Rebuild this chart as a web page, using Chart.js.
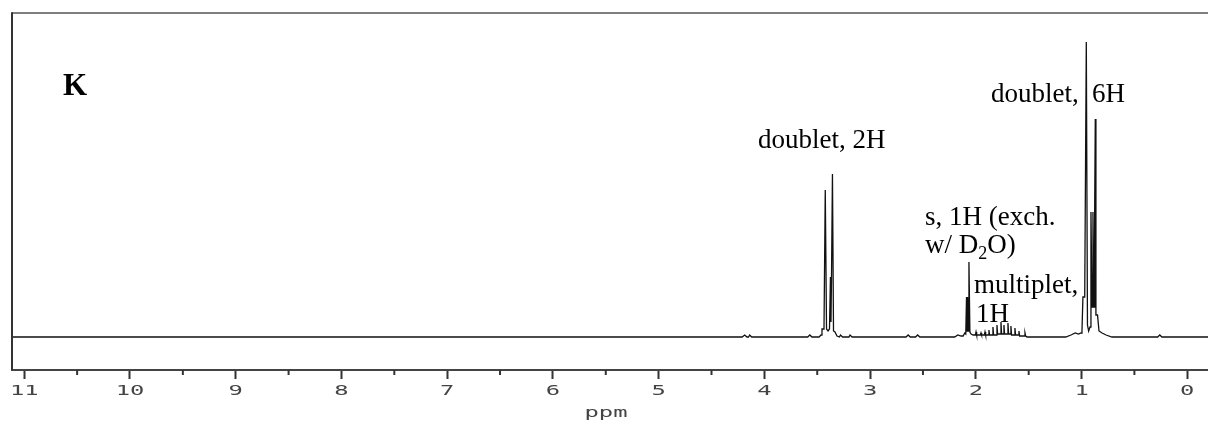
<!DOCTYPE html>
<html>
<head>
<meta charset="utf-8">
<script src="https://cdn.jsdelivr.net/npm/chart.js@4.4.0/dist/chart.umd.min.js"></script>
<style>
  html, body { margin: 0; padding: 0; background: #fff; }
</style>
</head>
<body>
<canvas id="nmrChart" width="1208" height="426"></canvas>
<script>
// 1H NMR spectrum of compound K
// chemical shift (ppm) and height above baseline (arbitrary units)
var ppm = [
  11.116, 4.21, 4.186, 4.165, 4.15, 4.139, 4.12, 3.59, 3.57, 3.55,
  3.483, 3.464, 3.455, 3.436, 3.424, 3.412, 3.398, 3.384, 3.375, 3.370,
  3.365, 3.356, 3.346, 3.332, 3.313, 3.29, 3.28, 3.26, 3.20, 3.19,
  3.17, 2.66, 2.64, 2.62, 2.57, 2.55, 2.53, 2.20, 2.17, 2.14,
  2.12, 2.105, 2.095, 2.088, 2.083, 2.078, 2.072, 2.065, 2.056, 2.045,
  2.025, 2.004, 1.998, 1.992, 1.957, 1.951, 1.945, 1.919, 1.913, 1.907,
  1.882, 1.876, 1.870, 1.844, 1.838, 1.832, 1.806, 1.800, 1.794, 1.768,
  1.762, 1.756, 1.740, 1.734, 1.728, 1.702, 1.696, 1.690, 1.674, 1.668,
  1.662, 1.636, 1.630, 1.624, 1.598, 1.592, 1.586, 1.541, 1.535, 1.529,
  1.516, 1.15, 1.10, 1.06,
  1.03, 1.005, 0.996, 0.987, 0.970, 0.955, 0.944, 0.933, 0.920, 0.911,
  0.901, 0.892, 0.882, 0.876, 0.870, 0.864, 0.849, 0.835, 0.806, 0.768,
  0.712, 0.28, 0.26, 0.24, -0.196
];
var intensity = [
  0, 0, 2, 0, 0, 2, 0, 0, 2, 0,
  0, 2, 8, 8, 147, 8, 6, 8, 60, 15,
  60, 163, 6, 5, 1, 0, 2, 0, 0, 2,
  0, 0, 2, 0, 0, 2, 0, 0, 2, 1,
  1, 4, 3, 40, 6, 40, 6, 75, 5, 3,
  2, 2, 5, 2, 2, 4, 2, 2, 5, 2,
  2, 7, 2, 2, 10, 2, 2, 12, 3, 3,
  15, 3, 3, 12, 3, 3, 14, 3, 3, 11,
  2, 2, 9, 2, 2, 6, 1, 1, 4, 1,
  0, 0, 2, 4,
  3, 4, 6, 40, 40, 295, 12, 6, 10, 125,
  30, 125, 30, 125, 218, 22, 22, 6, 4, 2,
  0, 0, 2, 0, 0
];

var majorTicks = [0, 1, 2, 3, 4, 5, 6, 7, 8, 9, 10, 11];
var axisTitle = 'ppm';

// peak annotations, anchored at (ppm, height); |..| marks a subscript
var labelText = ['doublet, 2H', 'doublet,', '6H', 's, 1H (exch.', 'w/ D|2|O)', 'multiplet,', '1H'];
var labelPpm = [4.060, 1.857, 0.901, 2.481, 2.481, 2.017, 1.998];
var labelHeight = [189, 235, 235, 112, 84, 44, 15];
var panelLetter = { text: 'K', ppm: 10.634, height: 242 };

var points = ppm.map(function (p, i) {
  return { x: p, y: intensity[i] };
});

function wideText(ctx, txt, x, y) {
  ctx.save();
  ctx.translate(x, y);
  ctx.scale(1.7, 1);
  ctx.fillText(txt, 0, 0);
  ctx.restore();
}

var spectrumDecor = {
  id: 'spectrumDecor',
  afterDraw: function (chart) {
    var ctx = chart.ctx;
    var area = chart.chartArea;
    var xs = chart.scales.x;
    var ys = chart.scales.y;
    ctx.save();

    // frame on top and left
    ctx.strokeStyle = '#555';
    ctx.lineWidth = 1.5;
    ctx.beginPath();
    ctx.moveTo(area.left, area.top);
    ctx.lineTo(area.right, area.top);
    ctx.stroke();
    ctx.strokeStyle = '#333';
    ctx.lineWidth = 2;
    ctx.beginPath();
    ctx.moveTo(area.left, area.top - 0.75);
    ctx.lineTo(area.left, area.bottom);
    ctx.stroke();

    // minor ticks at half ppm
    ctx.lineWidth = 2;
    majorTicks.forEach(function (t) {
      var v = t + 0.5;
      if (v > xs.max || v < xs.min) return;
      var px = xs.getPixelForValue(v);
      ctx.beginPath();
      ctx.moveTo(px, area.bottom);
      ctx.lineTo(px, area.bottom + 5);
      ctx.stroke();
    });

    // tick labels and axis title in a wide plotter-like face
    ctx.fillStyle = '#444';
    ctx.font = '14px "DejaVu Sans Mono"';
    ctx.textAlign = 'center';
    ctx.textBaseline = 'middle';
    xs.ticks.forEach(function (t) {
      wideText(ctx, String(t.value), xs.getPixelForValue(t.value), area.bottom + 21);
    });
    ctx.textBaseline = 'alphabetic';
    wideText(ctx, axisTitle, (area.left + area.right) / 2 - 4, area.bottom + 47);

    // annotations
    ctx.fillStyle = '#000';
    ctx.textAlign = 'left';
    ctx.textBaseline = 'alphabetic';
    labelText.forEach(function (txt, i) {
      var x = xs.getPixelForValue(labelPpm[i]);
      var y = ys.getPixelForValue(labelHeight[i]);
      var parts = txt.split('|');
      parts.forEach(function (part, j) {
        var sub = (j % 2 === 1);
        ctx.font = sub ? '18px "Liberation Serif"' : '27px "Liberation Serif"';
        ctx.fillText(part, x, y + (sub ? 6 : 0));
        x += ctx.measureText(part).width;
      });
    });
    ctx.font = 'bold 31px "Liberation Serif"';
    ctx.fillText(panelLetter.text, xs.getPixelForValue(panelLetter.ppm), ys.getPixelForValue(panelLetter.height));

    ctx.restore();
  }
};

var ctx = document.getElementById('nmrChart').getContext('2d');
var nmrChart = new Chart(ctx, {
  type: 'line',
  data: {
    datasets: [{
      label: 'K',
      data: points,
      borderColor: '#111',
      borderWidth: 1.3,
      pointRadius: 0,
      tension: 0,
      fill: false
    }]
  },
  options: {
    responsive: false,
    animation: false,
    devicePixelRatio: 1,
    layout: { padding: { left: 12, top: 13, right: 0, bottom: 0 } },
    scales: {
      x: {
        type: 'linear',
        reverse: true,
        min: -0.196,
        max: 11.116,
        afterBuildTicks: function (scale) {
          scale.ticks = majorTicks.map(function (v) { return { value: v }; });
        },
        afterFit: function (scale) { scale.height = 56; },
        ticks: { display: false },
        grid: {
          display: true,
          drawOnChartArea: false,
          drawTicks: true,
          tickLength: 9,
          tickWidth: 2,
          tickColor: '#333'
        },
        border: { display: true, color: '#444', width: 2 }
      },
      y: {
        display: false,
        min: -33,
        max: 324
      }
    },
    plugins: {
      legend: { display: false },
      tooltip: { enabled: false }
    }
  },
  plugins: [spectrumDecor]
});
</script>
</body>
</html>
